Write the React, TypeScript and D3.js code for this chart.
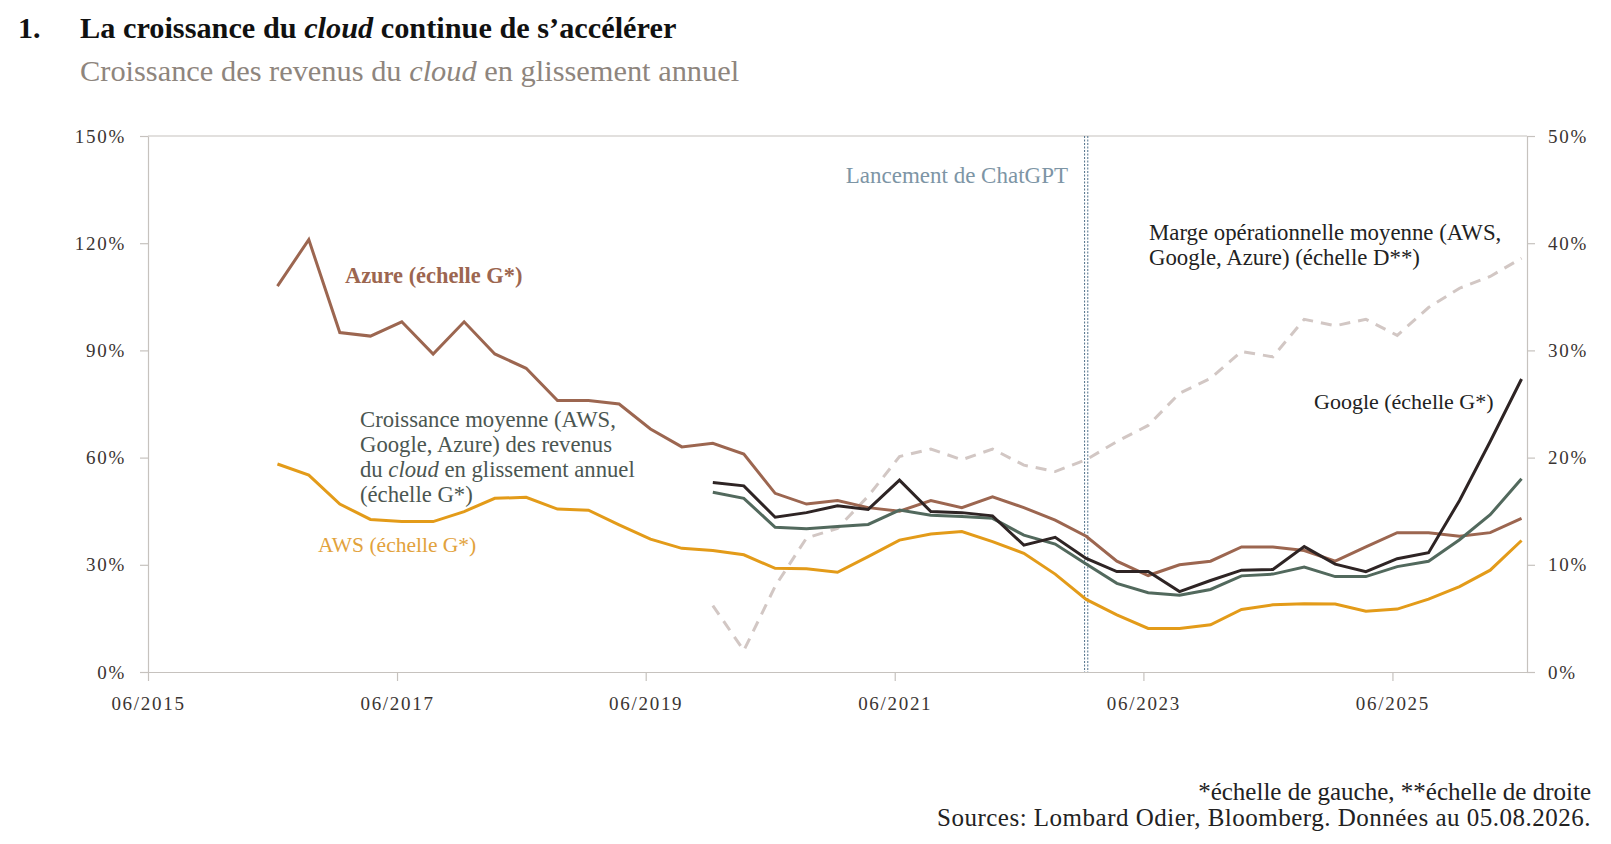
import React, { useEffect, useRef } from "react";
import * as d3 from "d3";

// Quarterly observations (06/2016 .. 06/2026)
const quarters = [
  "06/2016", "09/2016", "12/2016", "03/2017", "06/2017", "09/2017", "12/2017",
  "03/2018", "06/2018", "09/2018", "12/2018", "03/2019", "06/2019", "09/2019",
  "12/2019", "03/2020", "06/2020", "09/2020", "12/2020", "03/2021", "06/2021",
  "09/2021", "12/2021", "03/2022", "06/2022", "09/2022", "12/2022", "03/2023",
  "06/2023", "09/2023", "12/2023", "03/2024", "06/2024", "09/2024", "12/2024",
  "03/2025", "06/2025", "09/2025", "12/2025", "03/2026", "06/2026",
];

// Left scale (%), cloud revenue growth yoy
const azure = [
  108, 121, 95, 94, 98, 89, 98, 89, 85, 76, 76, 75, 68, 63, 64, 61, 50, 47, 48,
  46, 45, 48, 46, 49, 46, 42.5, 38, 31, 27, 30, 31, 35, 35, 34, 31, 35, 39, 39,
  38, 39, 43,
];
const aws = [
  58.2, 55.1, 47.0, 42.7, 42.1, 42.1, 44.9, 48.6, 48.9, 45.6, 45.3, 41.2, 37.2,
  34.6, 34.0, 32.8, 29.0, 28.9, 27.9, 32.3, 36.9, 38.6, 39.3, 36.5, 33.2, 27.4,
  20.3, 16.0, 12.2, 12.2, 13.2, 17.5, 18.8, 19.1, 19.0, 17.0, 17.6, 20.4, 23.9,
  28.5, 36.8,
];
const google = [
  null, null, null, null, null, null, null, null, null, null, null, null, null,
  null, 53.0, 52.1, 43.3, 44.6, 46.5, 45.5, 53.7, 44.9, 44.6, 43.7, 35.5, 37.7,
  31.8, 28.1, 28.1, 22.5, 25.6, 28.5, 28.7, 35.1, 30.2, 28.1, 31.7, 33.4, 48,
  64.5, 82,
];
const average = [
  null, null, null, null, null, null, null, null, null, null, null, null, null,
  null, 50.3, 48.6, 40.5, 40.1, 40.7, 41.3, 45.3, 43.9, 43.5, 43.0, 38.3, 35.8,
  30.2, 24.8, 22.2, 21.5, 23.1, 26.9, 27.4, 29.4, 26.7, 26.7, 29.5, 31.0, 37.0,
  44.0, 54.1,
];
// Right scale (%), average operating margin
const margin = [
  null, null, null, null, null, null, null, null, null, null, null, null, null,
  null, 6.2, 2.0, 8.0, 12.5, 13.4, 16.4, 20.1, 20.8, 19.8, 20.8, 19.3, 18.7,
  19.8, 21.5, 23.0, 26.0, 27.4, 29.9, 29.4, 32.9, 32.3, 32.9, 31.4, 34.0, 35.8,
  36.9, 38.6,
];

const xTicks = ["06/2015", "06/2017", "06/2019", "06/2021", "06/2023", "06/2025"];
const xDomain = ["06/2015", "07/2026"];
const leftTicks = [0, 30, 60, 90, 120, 150];
const rightTicks = [0, 10, 20, 30, 40, 50];
const chatGptDate = "15/12/2022";

const FONT = "'Liberation Serif', 'Times New Roman', serif";

export default function App() {
  const svgRef = useRef<SVGSVGElement>(null);

  useEffect(() => {
    if (!svgRef.current) return;
    const svg = d3.select(svgRef.current);
    svg.selectAll("*").remove();

    const left = 148, right = 1527, top = 136, bottom = 672;

    const parseMonth = d3.timeParse("%m/%Y");
    const pointDate = (q: string) => d3.timeDay.offset(parseMonth(q)!, 14);

    const x = d3
      .scaleTime()
      .domain(xDomain.map((d) => parseMonth(d)!))
      .range([left, right]);
    const yL = d3.scaleLinear().domain([0, 150]).range([bottom, top]);
    const yR = d3.scaleLinear().domain([0, 50]).range([bottom, top]);

    const axisColor = "#c6c2be";
    const tickText = "#3a3432";

    const styleAxis = (g: d3.Selection<SVGGElement, unknown, null, undefined>) => {
      g.select(".domain").attr("stroke", axisColor).attr("stroke-width", 1.2);
      g.selectAll(".tick line").attr("stroke", axisColor).attr("stroke-width", 1.2);
      g.selectAll(".tick text")
        .attr("fill", tickText)
        .style("font-family", FONT)
        .style("font-size", "19px")
        .style("letter-spacing", "1.7px");
    };

    // top border
    svg
      .append("line")
      .attr("x1", left)
      .attr("x2", right)
      .attr("y1", top)
      .attr("y2", top)
      .attr("stroke", axisColor)
      .attr("stroke-width", 1.2);

    svg
      .append("g")
      .attr("transform", `translate(${left},0)`)
      .call(
        d3
          .axisLeft(yL)
          .tickValues(leftTicks)
          .tickFormat((d) => `${d}%`)
          .tickSize(8)
          .tickPadding(14)
          .tickSizeOuter(0)
      )
      .call(styleAxis);

    svg
      .append("g")
      .attr("transform", `translate(${right},0)`)
      .call(
        d3
          .axisRight(yR)
          .tickValues(rightTicks)
          .tickFormat((d) => `${d}%`)
          .tickSize(8)
          .tickPadding(13)
          .tickSizeOuter(0)
      )
      .call(styleAxis);

    svg
      .append("g")
      .attr("transform", `translate(0,${bottom})`)
      .call(
        d3
          .axisBottom(x)
          .tickValues(xTicks.map((d) => parseMonth(d)!))
          .tickFormat((d) => d3.timeFormat("%m/%Y")(d as Date))
          .tickSize(9)
          .tickPadding(16)
          .tickSizeOuter(0)
      )
      .call(styleAxis);

    svg.selectAll(".domain").attr("fill", "none");

    // ChatGPT launch marker (double dotted line)
    const cx = x(d3.timeParse("%d/%m/%Y")(chatGptDate)!);
    [-1.6, 1.6].forEach((off) => {
      svg
        .append("line")
        .attr("x1", cx + off)
        .attr("x2", cx + off)
        .attr("y1", top)
        .attr("y2", bottom)
        .attr("stroke", "#4f7089")
        .attr("stroke-width", 1)
        .attr("stroke-dasharray", "2,1.5");
    });

    const lineL = d3
      .line<number | null>()
      .defined((d) => d !== null)
      .x((_, i) => x(pointDate(quarters[i])))
      .y((d) => yL(d as number));
    const lineR = d3
      .line<number | null>()
      .defined((d) => d !== null)
      .x((_, i) => x(pointDate(quarters[i])))
      .y((d) => yR(d as number));

    const series: { values: (number | null)[]; color: string; gen: typeof lineL; dash?: string }[] = [
      { values: margin, color: "#d2c7c4", gen: lineR, dash: "11,8" },
      { values: aws, color: "#e39b19", gen: lineL },
      { values: azure, color: "#9c6650", gen: lineL },
      { values: average, color: "#52695d", gen: lineL },
      { values: google, color: "#2e2424", gen: lineL },
    ];

    series.forEach((s) => {
      svg
        .append("path")
        .datum(s.values)
        .attr("d", s.gen)
        .attr("fill", "none")
        .attr("stroke", s.color)
        .attr("stroke-width", 3)
        .attr("stroke-dasharray", s.dash ?? null);
    });

    // text helper: parts are [text, italic?]
    const addText = (
      tx: number,
      ty: number,
      parts: [string, boolean?][],
      opts: { size: number; color: string; weight?: string; anchor?: string; spacing?: number }
    ) => {
      const t = svg
        .append("text")
        .attr("x", tx)
        .attr("y", ty)
        .attr("fill", opts.color)
        .attr("text-anchor", opts.anchor ?? "start")
        .style("font-family", FONT)
        .style("font-size", `${opts.size}px`)
        .style("font-weight", opts.weight ?? "normal")
        .style("letter-spacing", `${opts.spacing ?? 0}px`);
      parts.forEach(([s, it]) => {
        t.append("tspan").style("font-style", it ? "italic" : "normal").text(s);
      });
    };

    // titles
    addText(18, 38, [["1."]], { size: 30, color: "#111", weight: "bold" });
    addText(80, 38, [["La croissance du "], ["cloud", true], [" continue de s’accélérer"]], {
      size: 30.3,
      color: "#111",
      weight: "bold",
    });
    addText(80, 81, [["Croissance des revenus du "], ["cloud", true], [" en glissement annuel"]], {
      size: 30.4,
      color: "#8e857d",
    });

    addText(1068, 183, [["Lancement de ChatGPT"]], { size: 23, color: "#7d95a5", anchor: "end" });

    addText(345, 283, [["Azure (échelle G*)"]], { size: 22.4, color: "#9c6650", weight: "bold" });

    const avgColor = "#4b5651";
    addText(360, 427, [["Croissance moyenne (AWS,"]], { size: 22.7, color: avgColor });
    addText(360, 452, [["Google, Azure) des revenus"]], { size: 22.7, color: avgColor });
    addText(360, 477, [["du "], ["cloud", true], [" en glissement annuel"]], { size: 22.7, color: avgColor });
    addText(360, 502, [["(échelle G*)"]], { size: 22.7, color: avgColor });

    addText(318, 552, [["AWS (échelle G*)"]], { size: 21.5, color: "#e2a23c" });

    addText(1149, 240, [["Marge opérationnelle moyenne (AWS,"]], { size: 22.8, color: "#222" });
    addText(1149, 265, [["Google, Azure) (échelle D**)"]], { size: 22.8, color: "#222" });

    addText(1314, 409, [["Google (échelle G*)"]], { size: 22, color: "#222" });

    // footnotes
    addText(1591, 800, [["*échelle de gauche, **échelle de droite"]], {
      size: 25,
      color: "#222",
      anchor: "end",
    });
    addText(1591, 826, [["Sources: Lombard Odier, Bloomberg. Données au 05.08.2026."]], {
      size: 25,
      color: "#222",
      anchor: "end",
      spacing: 0.5,
    });
  }, []);

  return (
    <svg
      ref={svgRef}
      width={1611}
      height={844}
      style={{ position: "absolute", left: 0, top: 0, background: "#fff" }}
    />
  );
}
